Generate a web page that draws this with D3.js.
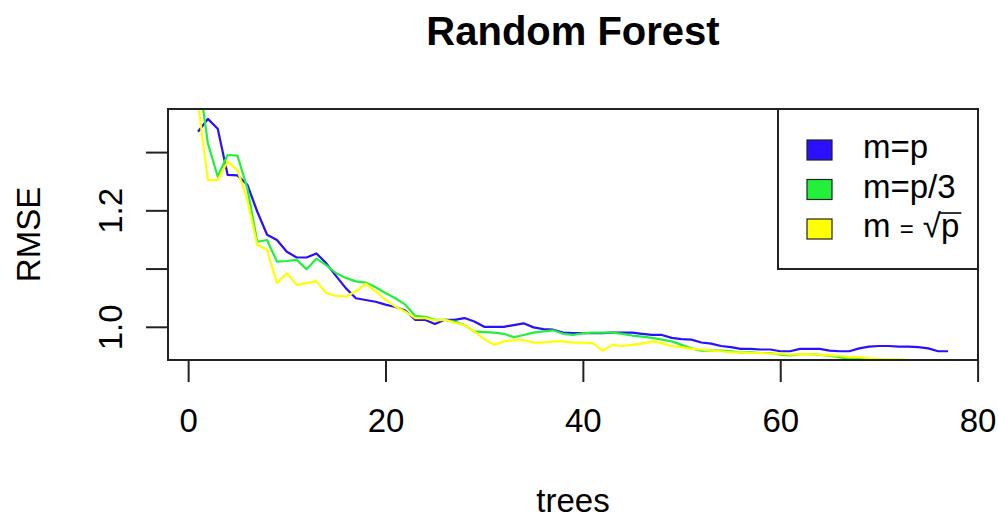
<!DOCTYPE html>
<html>
<head>
<meta charset="utf-8">
<script src="https://cdn.jsdelivr.net/npm/d3@7"></script>
<style>
  body { margin: 0; background: #fff; }
  svg text { font-family: "Liberation Sans", Arial, Helvetica, sans-serif; fill: #000; }
</style>
</head>
<body>
<svg id="chart" width="998" height="519"></svg>
<script>
// number of trees 1..77
var trees = d3.range(1, 78);

var rmseP = [1.335, 1.357, 1.340, 1.261, 1.260, 1.244, 1.198, 1.158, 1.149, 1.129,
  1.119, 1.119, 1.126, 1.109, 1.087, 1.066, 1.049, 1.046, 1.043, 1.038,
  1.034, 1.028, 1.012, 1.012, 1.005, 1.012, 1.012, 1.015, 1.009, 1.000,
  1.000, 1.000, 1.003, 1.006, 0.999, 0.996, 0.995, 0.990, 0.989, 0.989,
  0.989, 0.989, 0.990, 0.990, 0.990, 0.988, 0.986, 0.986, 0.981, 0.979,
  0.978, 0.973, 0.971, 0.967, 0.965, 0.962, 0.962, 0.961, 0.961, 0.958,
  0.958, 0.962, 0.962, 0.962, 0.959, 0.958, 0.958, 0.963, 0.966, 0.967,
  0.967, 0.966, 0.966, 0.965, 0.963, 0.958, 0.958];

var rmseP3 = [1.440, 1.315, 1.258, 1.295, 1.294, 1.238, 1.146, 1.149, 1.112, 1.113,
  1.115, 1.099, 1.117, 1.106, 1.092, 1.084, 1.078, 1.076, 1.068, 1.058,
  1.049, 1.038, 1.019, 1.017, 1.012, 1.012, 1.009, 1.003, 0.992, 0.991,
  0.990, 0.988, 0.982, 0.986, 0.990, 0.992, 0.994, 0.988, 0.986, 0.989,
  0.990, 0.990, 0.990, 0.988, 0.985, 0.983, 0.981, 0.978, 0.975, 0.969,
  0.963, 0.959, 0.959, 0.959, 0.958, 0.956, 0.956, 0.955, 0.955, 0.952,
  0.951, 0.953, 0.953, 0.952, 0.950, 0.948, 0.945, 0.945, 0.944, 0.944,
  0.943, 0.942, 0.942, 0.941, 0.940, 0.940, 0.939];

var rmseSqrt = [1.385, 1.252, 1.252, 1.284, 1.269, 1.218, 1.141, 1.132, 1.075, 1.092,
  1.072, 1.075, 1.078, 1.058, 1.053, 1.052, 1.061, 1.074, 1.061, 1.046,
  1.035, 1.026, 1.015, 1.015, 1.011, 1.012, 1.007, 1.003, 0.992, 0.979,
  0.969, 0.975, 0.977, 0.977, 0.973, 0.973, 0.975, 0.975, 0.973, 0.973,
  0.972, 0.959, 0.969, 0.967, 0.969, 0.971, 0.975, 0.972, 0.967, 0.965,
  0.962, 0.961, 0.959, 0.958, 0.956, 0.956, 0.955, 0.955, 0.954, 0.954,
  0.952, 0.953, 0.953, 0.952, 0.951, 0.950, 0.948, 0.948, 0.946, 0.945,
  0.944, 0.944, 0.943, 0.942, 0.941, 0.941, 0.940];

var seriesNames = ['m=p', 'm=p/3', 'sqrt'];
var seriesColors = ['#2a10ff', '#22f03a', '#ffff00'];
var xTicks = [0, 20, 40, 60, 80];
var yTicks = [1.0, 1.1, 1.2, 1.3];
var yTickLabels = ['1.0', '', '1.2', ''];

var series = [rmseP, rmseP3, rmseSqrt];

// plot box, as in the R device
var box = { left: 168, top: 109, right: 978, bottom: 360 };

var x = d3.scaleLinear().domain([-2.04, 80.04]).range([box.left, box.right]);
var y = d3.scaleLinear().domain([0.943, 1.374]).range([box.bottom, box.top]);

var svg = d3.select('#chart');

svg.append('defs').append('clipPath')
  .attr('id', 'plotclip')
  .append('rect')
  .attr('x', box.left).attr('y', box.top)
  .attr('width', box.right - box.left).attr('height', box.bottom - box.top);

// title
svg.append('text')
  .attr('x', (box.left + box.right) / 2)
  .attr('y', 45)
  .attr('text-anchor', 'middle')
  .style('font-size', '40px')
  .style('font-weight', 'bold')
  .text('Random Forest');

// lines
var line = d3.line()
  .x(function(d, i) { return x(trees[i]); })
  .y(function(d) { return y(d); });

svg.append('g')
  .attr('clip-path', 'url(#plotclip)')
  .selectAll('path')
  .data(series)
  .enter()
  .append('path')
  .attr('d', line)
  .attr('fill', 'none')
  .attr('stroke', function(d, i) { return seriesColors[i]; })
  .attr('stroke-width', 2.2)
  .attr('stroke-linejoin', 'round');

// box
svg.append('rect')
  .attr('x', box.left).attr('y', box.top)
  .attr('width', box.right - box.left).attr('height', box.bottom - box.top)
  .attr('fill', 'none')
  .attr('stroke', '#222')
  .attr('stroke-width', 2);

// x axis
var xAxis = svg.append('g')
  .attr('transform', 'translate(0,' + box.bottom + ')')
  .call(d3.axisBottom(x).tickValues(xTicks).tickSize(22).tickFormat(d3.format('d')));
xAxis.select('.domain').remove();
xAxis.selectAll('line').attr('stroke', '#222').attr('stroke-width', 2);
xAxis.selectAll('text')
  .attr('y', 72).attr('dy', null)
  .style('font-size', '33px')
  .attr('fill', '#000');

// y axis, labels parallel to the axis
var yAxis = svg.append('g')
  .attr('transform', 'translate(' + box.left + ',0)')
  .call(d3.axisLeft(y).tickValues(yTicks).tickSize(22)
    .tickFormat(function(d, i) { return yTickLabels[i]; }));
yAxis.select('.domain').remove();
yAxis.selectAll('line').attr('stroke', '#222').attr('stroke-width', 2);
yAxis.selectAll('text')
  .attr('transform', 'rotate(-90)')
  .attr('x', 0).attr('y', -46).attr('dy', null)
  .attr('text-anchor', 'middle')
  .style('font-size', '33px')
  .attr('fill', '#000');

// axis titles
svg.append('text')
  .attr('x', (box.left + box.right) / 2)
  .attr('y', 512)
  .attr('text-anchor', 'middle')
  .style('font-size', '33px')
  .text('trees');

svg.append('text')
  .attr('transform', 'translate(40,' + (box.top + box.bottom) / 2 + ') rotate(-90)')
  .attr('text-anchor', 'middle')
  .style('font-size', '33px')
  .text('RMSE');

// legend
var legend = svg.append('g');
legend.append('rect')
  .attr('x', 778).attr('y', box.top)
  .attr('width', box.right - 778).attr('height', 160)
  .attr('fill', '#fff')
  .attr('stroke', '#222')
  .attr('stroke-width', 2);

var rows = legend.selectAll('g.row')
  .data(seriesNames)
  .enter()
  .append('g')
  .attr('class', 'row')
  .attr('transform', function(d, i) { return 'translate(807,' + (150 + i * 39.5) + ')'; });

rows.append('rect')
  .attr('x', 0).attr('y', -10)
  .attr('width', 25).attr('height', 20)
  .attr('fill', function(d, i) { return seriesColors[i]; })
  .attr('stroke', '#222')
  .attr('stroke-width', 1.2);

rows.each(function(d) {
  var g = d3.select(this);
  if (d !== 'sqrt') {
    g.append('text')
      .attr('x', 56).attr('y', 8)
      .style('font-size', '33px')
      .text(d);
  } else {
    // m = sqrt(p), drawn like R plotmath
    var t = g.append('text')
      .attr('x', 56).attr('y', 8)
      .style('font-size', '33px');
    t.append('tspan').text('m ');
    t.append('tspan').style('font-size', '24px').text('=');
    t.append('tspan').text(' \u221A');
    var w = t.node().getComputedTextLength();
    var p = g.append('text')
      .attr('x', 56 + w).attr('y', 8)
      .style('font-size', '33px')
      .text('p');
    var pw = p.node().getComputedTextLength();
    g.append('line')
      .attr('x1', 56 + w - 2).attr('x2', 56 + w + pw + 2)
      .attr('y1', -16).attr('y2', -16)
      .attr('stroke', '#000')
      .attr('stroke-width', 1.6);
  }
});
</script>
</body>
</html>
